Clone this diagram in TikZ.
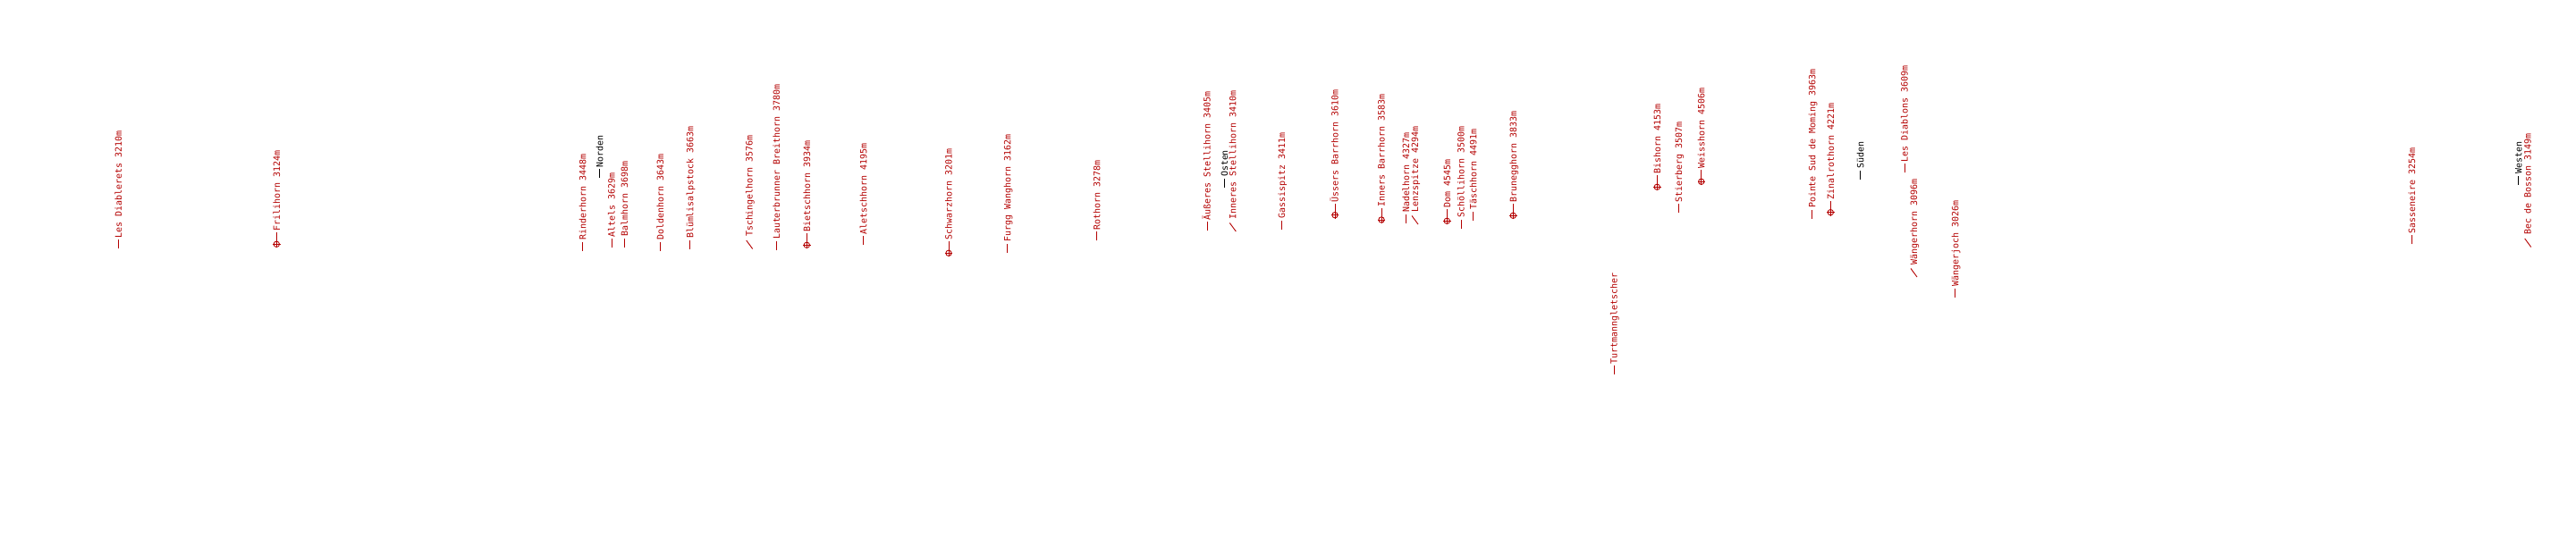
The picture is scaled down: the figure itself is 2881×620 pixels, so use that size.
\documentclass[tikz,border=0pt]{standalone}
\usepackage{fontspec}
\newfontfamily\pkfont{DejaVu Sans Mono}
\definecolor{pkred}{RGB}{180,0,0}
\tikzset{
  pklabel/.style={anchor=base west, inner sep=0pt, outer sep=0pt, rotate=90,
    font=\pkfont\fontsize{10}{12}\selectfont},
  pkline/.style={line width=0.9bp, line cap=butt},
}
% dash marker: name, x, y (image coords of text origin), text, colour
\newcommand\pkd[5]{%
  \begin{scope}[shift={(#2,620-#3)}, rotate=90]
    \draw[pkline, #5] (-12,3.7) -- (-2,3.7);
    \node[pklabel, text=#5] (#1) at (0,0) {#4};
  \end{scope}}
% circle (summit) marker
\newcommand\pkc[4]{%
  \begin{scope}[shift={(#2,620-#3)}, rotate=90]
    \draw[pkline, pkred] (-14.5,3.7) circle (3.2);
    \draw[pkline, pkred] (-18.7,3.7) -- (-1.5,3.7);
    \draw[pkline, pkred] (-14.5,-0.5) -- (-14.5,7.9);
    \node[pklabel, text=pkred] (#1) at (0,0) {#4};
  \end{scope}}
% slanted leader marker
\newcommand\pks[4]{%
  \begin{scope}[shift={(#2,620-#3)}, rotate=90]
    \draw[pkline, pkred] (-13.5,0) -- (-4,7);
    \node[pklabel, text=pkred] (#1) at (0,0) {#4};
  \end{scope}}
\begin{document}
\begin{tikzpicture}[x=1bp,y=1bp]
\fill[white] (0,0) rectangle (2881,620);
\useasboundingbox (0,0) rectangle (2881,620);

\pkd{diablerets}{136.0}{266.3}{Les Diablerets 3210m}{pkred}
\pkc{frilihorn}{313}{258.8}{Frilihorn 3124m}
\pkd{rinderhorn}{655.4}{268.7}{Rinderhorn 3448m}{pkred}
\pkd{norden}{674.4}{187.3}{Norden}{black}
\pkd{altels}{687.7}{265.3}{Altels 3629m}{pkred}
\pkd{balmhorn}{702}{264.7}{Balmhorn 3698m}{pkred}
\pkd{doldenhorn}{742}{268.7}{Doldenhorn 3643m}{pkred}
\pkd{bluemlisalp}{775.4}{267}{Blümlisalpstock 3663m}{pkred}
\pks{tschingel}{841.7}{265}{Tschingelhorn 3576m}
\pkd{lauterbrunner}{872}{268}{Lauterbrunner Breithorn 3780m}{pkred}
\pkc{bietschhorn}{906}{259.8}{Bietschhorn 3934m}
\pkd{aletschhorn}{969.4}{262.3}{Aletschhorn 4195m}{pkred}
\pkc{schwarzhorn}{1064.7}{268.8}{Schwarzhorn 3201m}
\pkd{furgg}{1130.4}{270.7}{Furgg Wanghorn 3162m}{pkred}
\pkd{rothorn}{1230.4}{257.3}{Rothorn 3278m}{pkred}
\pkd{aeusseres}{1353.7}{246.3}{Äußeres Stellihorn 3405m}{pkred}
\pkd{osten}{1373}{198}{Osten}{black}
\pks{inneres}{1382.3}{245.5}{Inneres Stellihorn 3410m}
\pkd{gassispitz}{1437}{244.7}{Gassispitz 3411m}{pkred}
\pkc{uessers}{1496.7}{226.2}{Üssers Barrhorn 3610m}
\pkc{inners}{1548.7}{231.5}{Inners Barrhorn 3583m}
\pkd{nadelhorn}{1576}{238}{Nadelhorn 4327m}{pkred}
\pks{lenzspitze}{1586}{237.5}{Lenzspitze 4294m}
\pkc{dom}{1622}{232.8}{Dom 4545m}
\pkd{schoellihorn}{1637.7}{243.7}{Schöllihorn 3500m}{pkred}
\pkd{taeschhorn}{1651.4}{234.7}{Täschhorn 4491m}{pkred}
\pkc{brunegghorn}{1696}{226.8}{Brunegghorn 3833m}
\pkd{turtmann}{1808.7}{407.3}{Turtmanngletscher}{pkred}
\pkc{bishorn}{1857}{194.8}{Bishorn 4153m}
\pkd{stierberg}{1881}{226.3}{Stierberg 3507m}{pkred}
\pkc{weisshorn}{1906.4}{188.8}{Weisshorn 4506m}
\pkd{moming}{2030.4}{233}{Pointe Sud de Moming 3963m}{pkred}
\pkc{zinalrothorn}{2051}{223.2}{Zinalrothorn 4221m}
\pkd{sueden}{2084.4}{188.7}{Süden}{black}
\pkd{diablons}{2133.7}{181.3}{Les Diablons 3609m}{pkred}
\pks{waengerhorn}{2144}{296.5}{Wängerhorn 3096m}
\pkd{waengerjoch}{2190.4}{320.7}{Wängerjoch 3026m}{pkred}
\pkd{sasseneire}{2701}{261.3}{Sasseneire 3254m}{pkred}
\pkd{westen}{2820.4}{194.7}{Westen}{black}
\pks{bosson}{2830.7}{263}{Bec de Bosson 3149m}
\end{tikzpicture}
\end{document}
